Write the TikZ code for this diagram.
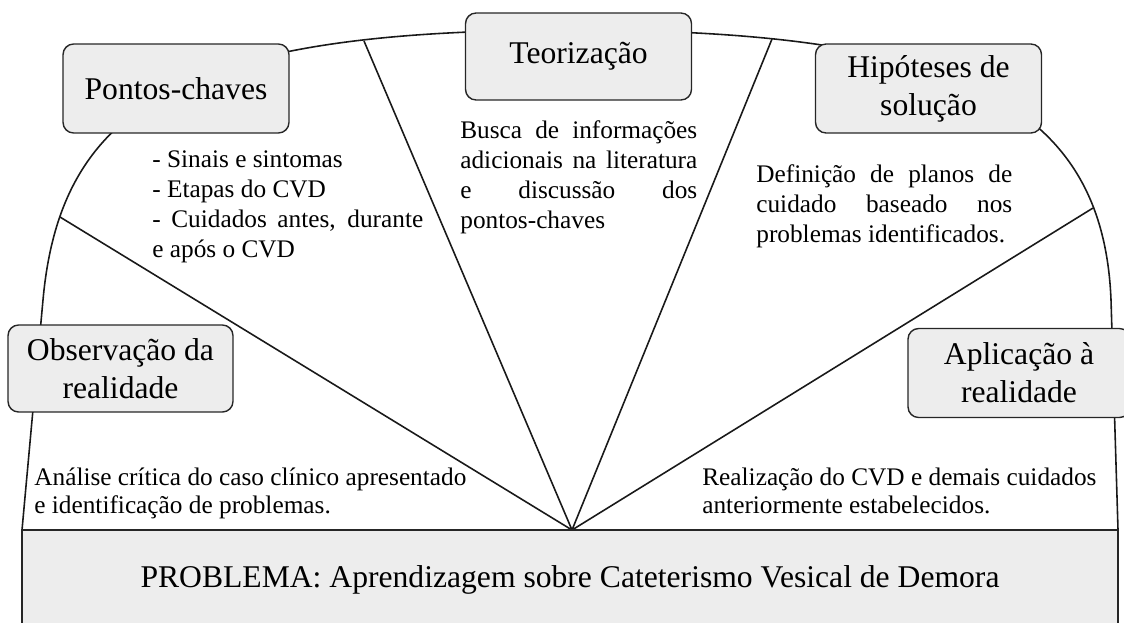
\documentclass[tikz,border=0pt]{standalone}
\usepackage{fontspec}
\setmainfont{Liberation Serif}
\tikzset{
  etapa/.style={draw=black!85, fill=black!7, rounded corners=6pt, line width=0.8pt,
    align=center, inner sep=0pt, minimum width=4.52cm, minimum height=1.78cm,
    font=\fontsize{18}{21.6}\selectfont},
  texto/.style={anchor=base west, inner sep=0pt, font=\fontsize{14.4}{17.1}\selectfont},
  raio/.style={line width=0.9pt, black!90}
}
\begin{document}
\begin{tikzpicture}[x=0.02cm,y=-0.02cm]
  \useasboundingbox (0,0) rectangle (1124,622);
  % cupula e raios
  \coordinate (fan) at (572,530);
  \coordinate (r1) at (60,217);
  \coordinate (r2) at (364,41);
  \coordinate (r3) at (772,39);
  \coordinate (r4) at (1093,208);
  \draw[raio] (22,530) -- (43,300) .. controls (61,100) and (192,30) .. (572,30)
    .. controls (952,30) and (1103,100) .. (1111,300) -- (1118,530);
  \foreach \r in {r1,r2,r3,r4}
    \draw[raio] (fan) -- (\r);
  % etapas
  \node[etapa] (pontos) at (176,88.5) {Pontos-chaves};
  \node[etapa, minimum height=1.74cm] (teoria) at (578.5,56.5) {Teorização};
  \node[etapa] (hipoteses) at (928.5,88.5) {Hipóteses de\\ solução};
  \node[etapa, minimum width=4.5cm, minimum height=1.74cm] (observacao) at (120.5,368.5) {Observação da\\ realidade};
  \node[etapa, minimum width=4.44cm] (aplicacao) at (1019,373) {Aplicação à\\ realidade};
  % problema
  \node[draw=black!85, fill=black!7, line width=0.8pt, minimum width=21.92cm, minimum height=2cm,
    inner sep=0pt, font=\fontsize{18}{21.6}\selectfont] (problema) at (570,580)
    {PROBLEMA: Aprendizagem sobre Cateterismo Vesical de Demora};
  % textos
  \node[texto] (lista) at (152,167) {\parbox[t]{5.42cm}{- Sinais e sintomas\\
    - Etapas do CVD\\
    \makebox[\linewidth][s]{- Cuidados antes, durante}\\
    e após o CVD}};
  \node[texto] (busca) at (460,138) {\parbox[t]{4.74cm}{\makebox[\linewidth][s]{Busca de informações}\\
    \makebox[\linewidth][s]{adicionais na literatura}\\
    \makebox[\linewidth][s]{e discussão dos}\\
    pontos-chaves}};
  \node[texto] (planos) at (756,182) {\parbox[t]{5.12cm}{\makebox[\linewidth][s]{Definição de planos de}\\
    \makebox[\linewidth][s]{cuidado baseado nos}\\
    problemas identificados.}};
  \node[texto, font=\fontsize{14.4}{16}\selectfont] (analise) at (34,485)
    {\parbox[t]{9cm}{Análise crítica do caso clínico apresentado\\ e identificação de problemas.}};
  \node[texto, font=\fontsize{14.4}{16}\selectfont] (realizacao) at (702,485)
    {\parbox[t]{8.2cm}{Realização do CVD e demais cuidados\\ anteriormente estabelecidos.}};
\end{tikzpicture}
\end{document}
